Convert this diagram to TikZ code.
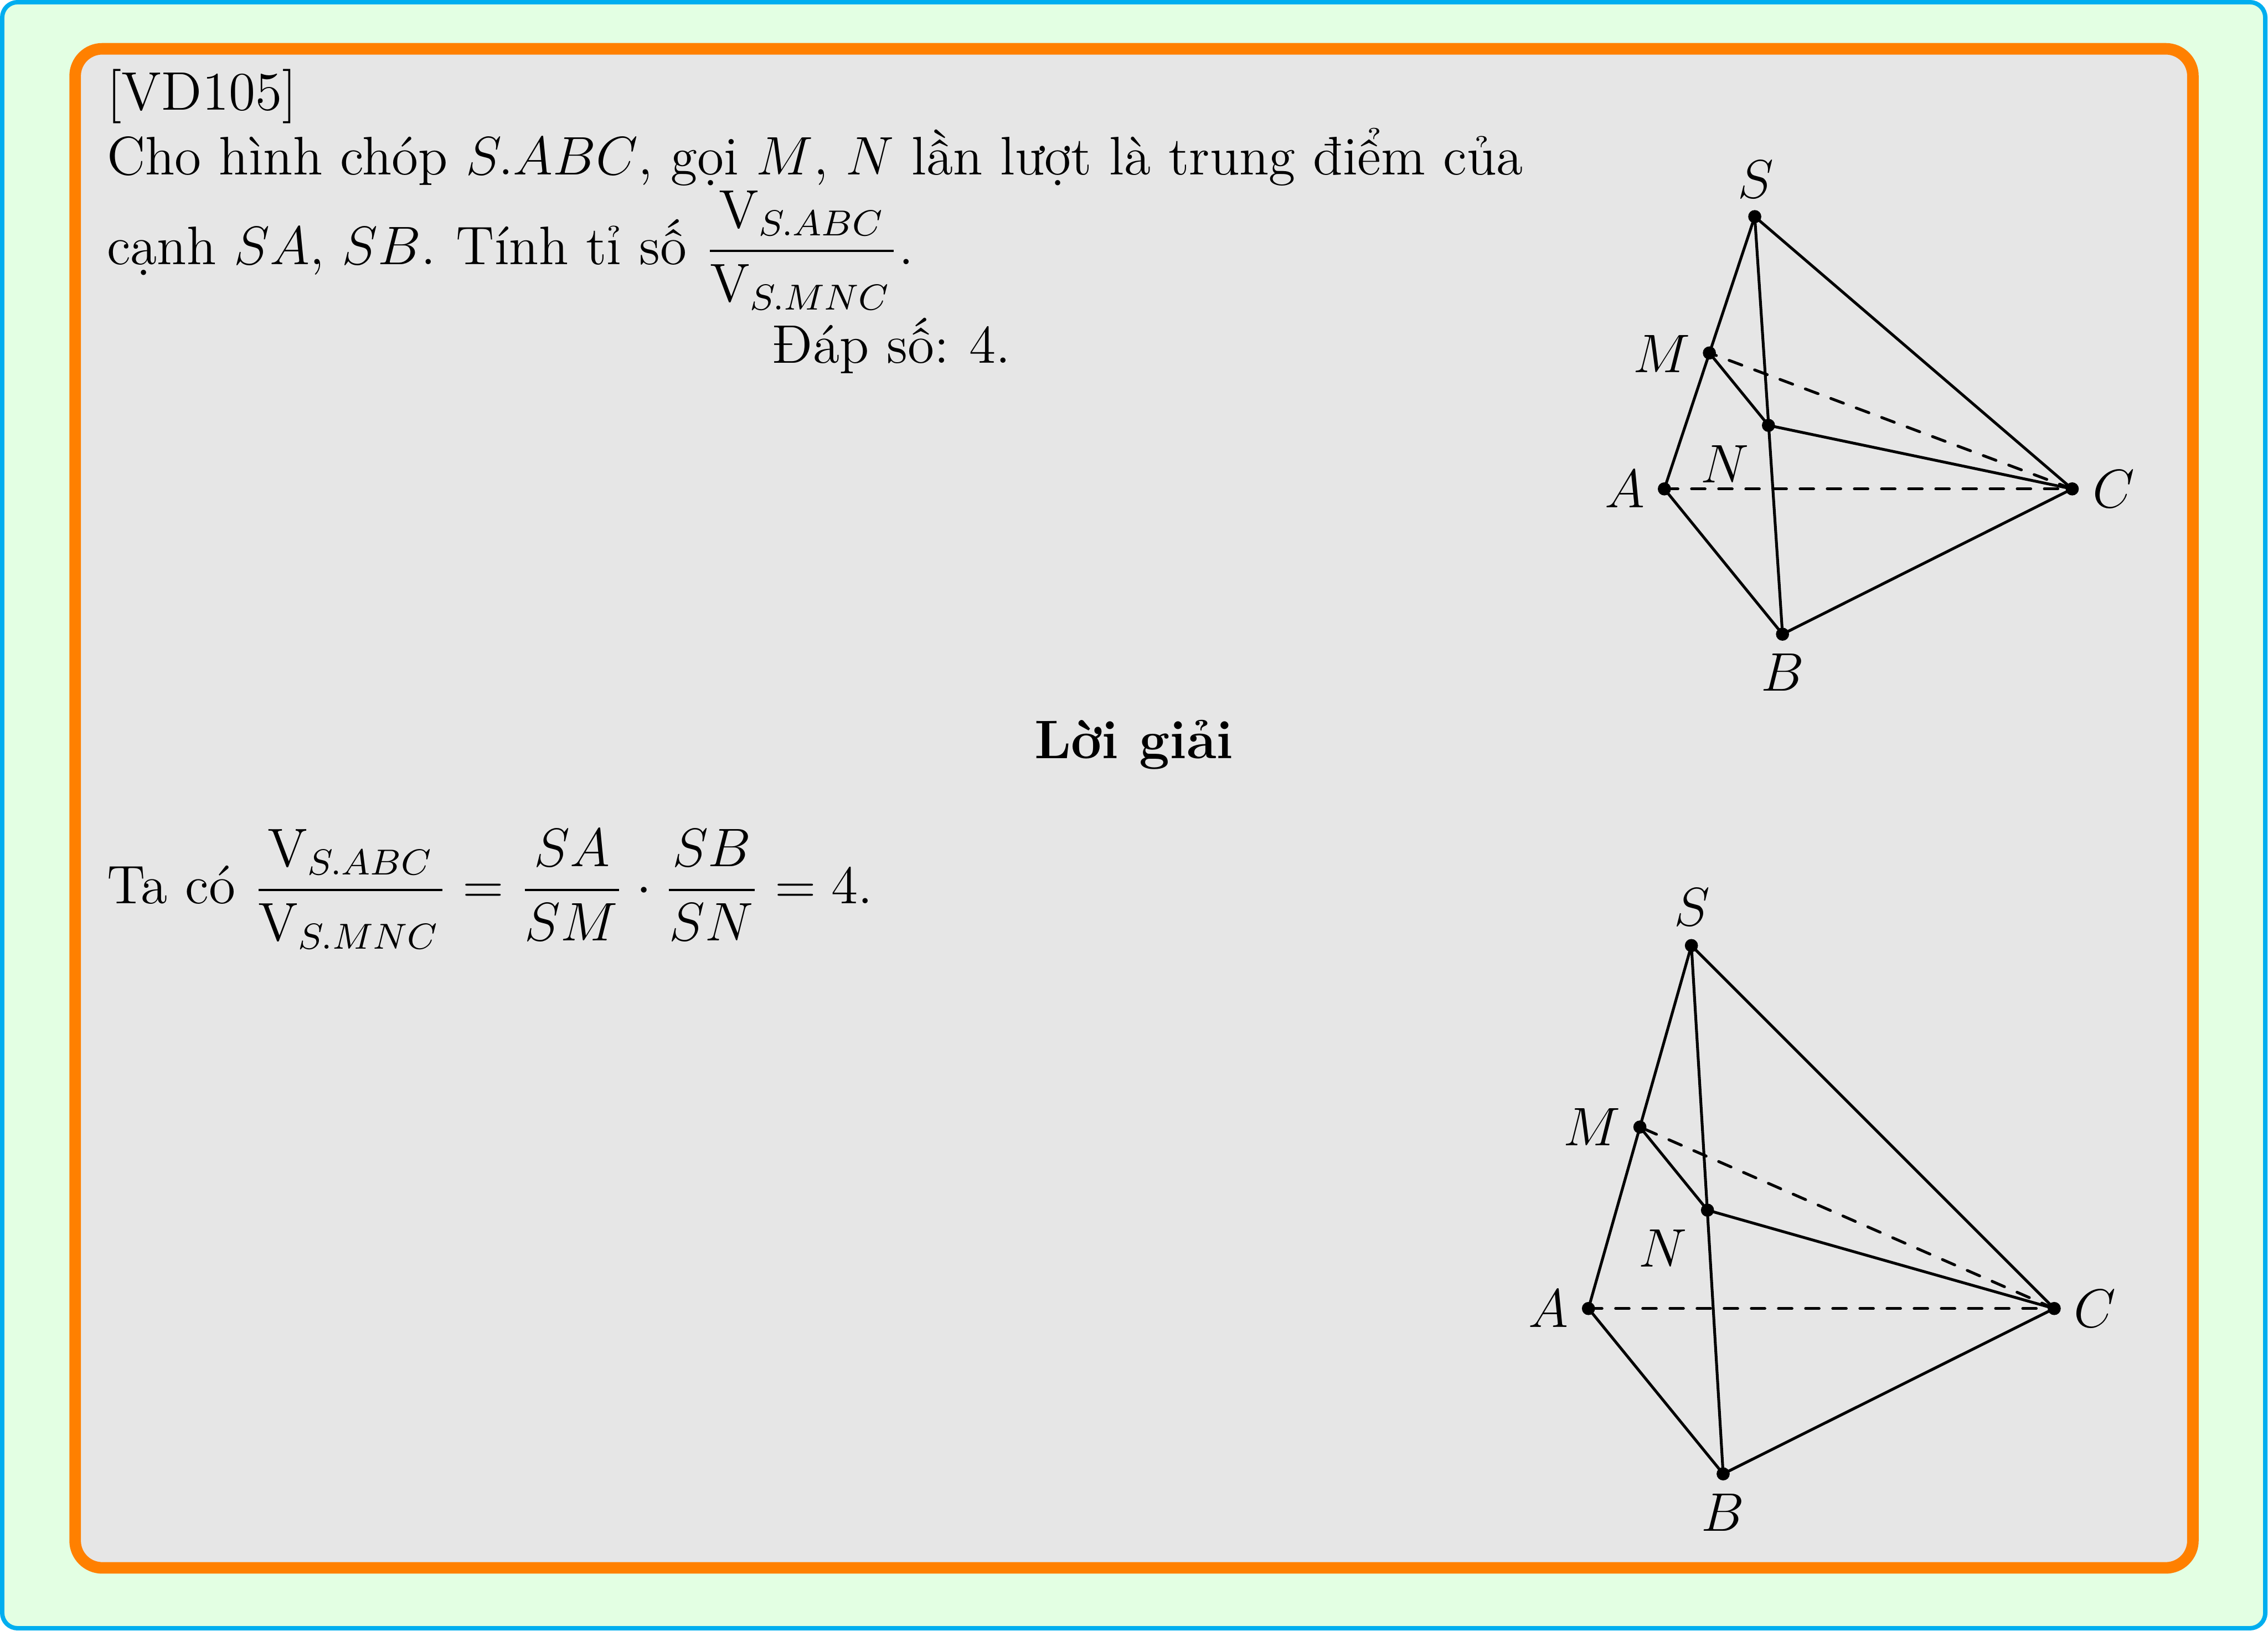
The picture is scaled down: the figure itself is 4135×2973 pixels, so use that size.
\documentclass[tikz,border=0pt]{standalone}
\usepackage{amsmath}
\usepackage{fontspec}
\definecolor{pagegreen}{HTML}{E3FFE3}
\definecolor{framecyan}{HTML}{00AEEF}
\definecolor{frameorange}{HTML}{FF8000}
\definecolor{panelgray}{HTML}{E6E6E6}
\tikzset{
  txt/.style={anchor=base west,inner sep=0pt,outer sep=0pt},
  ptlabel/.style={inner sep=0pt,outer sep=0pt},
  edge/.style={line width=0.62pt,line cap=round,line join=round},
  hidden/.style={line width=0.62pt,line cap=round,dash pattern=on 3pt off 3pt},
  dotmark/.style={circle,fill=black,inner sep=0pt,minimum size=2.9pt}
}
\begin{document}
\begin{tikzpicture}[x=0.12126pt,y=-0.12126pt]
\useasboundingbox (0,0) rectangle (4135,2973);
\draw[framecyan,fill=pagegreen,line width=0.97pt,rounded corners=3.4pt] (4,4) rectangle (4130,2968);
\draw[frameorange,fill=panelgray,line width=2.55pt,rounded corners=6pt] (137,89) rectangle (3998,2858);
\fontsize{12}{14.5}\selectfont
\node[txt] (vd) at (195,200) {[VD105]};
\node[txt] (l1) at (195,319) {Cho hình chóp $S.ABC$, gọi $M$, $N$ lần lượt là trung điểm của};
\node[txt] (l2) at (195,482) {cạnh $SA$, $SB$.\ \kern0.6pt Tính tỉ số $\dfrac{\mathrm{V}_{S.ABC}}{\mathrm{V}_{S.MNC\kern0.6pt}}$.};
\node[txt] (ans) at (1408,661.6) {Đáp số:\ \kern0.6pt 4.};
\node[anchor=base,inner sep=0pt] (lg) at (2067.5,1382.7) {\textbf{Lời giải}};
\node[txt] (sol) at (195,1646.7) {Ta có $\dfrac{\mathrm{V}_{S.ABC}}{\mathrm{V}_{S.MNC\kern0.6pt}}=\dfrac{SA}{SM\kern0.3pt}\cdot\dfrac{SB}{SN\kern0.3pt}=4$.};
% first pyramid
\coordinate (S) at (3199.2,394.9);
\coordinate (M) at (3116.5,643.4);
\coordinate (N) at (3224.2,775.4);
\coordinate (A) at (3034.4,891.2);
\coordinate (C) at (3778,891.2);
\coordinate (B) at (3249.8,1156);
\draw[edge] (S)--(A)--(B)--(C)--cycle (S)--(B) (M)--(N)--(C);
\draw[hidden] (A)--(C);
\draw[hidden] (C)--(M);
\foreach \p in {S,M,N,A,C,B} \node[dotmark] at (\p) {};
\node[ptlabel] (lS) at (3200.6,327) {$S$};
\node[ptlabel] (lM) at (3030,645) {$M$};
\node[ptlabel] (lN) at (3145,846) {$N$};
\node[ptlabel] (lA) at (2962,891) {$A$};
\node[ptlabel] (lC) at (3854,891) {$C$};
\node[ptlabel] (lB) at (3250,1226) {$B$};
% second pyramid
\coordinate (S2) at (3083.7,1723.6);
\coordinate (M2) at (2989.8,2054.4);
\coordinate (N2) at (3113,2205.9);
\coordinate (A2) at (2896,2385.2);
\coordinate (C2) at (3745.2,2385.2);
\coordinate (B2) at (3141.6,2686.6);
\draw[edge] (S2)--(A2)--(B2)--(C2)--cycle (S2)--(B2) (M2)--(N2)--(C2);
\draw[hidden] (A2)--(C2);
\draw[hidden] (C2)--(M2);
\foreach \p in {S2,M2,N2,A2,C2,B2} \node[dotmark] at (\p) {};
\node[ptlabel] (lS2) at (3085,1654) {$S$};
\node[ptlabel] (lM2) at (2902,2054) {$M$};
\node[ptlabel] (lN2) at (3032,2275) {$N$};
\node[ptlabel] (lA2) at (2823,2385) {$A$};
\node[ptlabel] (lC2) at (3819,2385) {$C$};
\node[ptlabel] (lB2) at (3141,2757) {$B$};
\end{tikzpicture}
\end{document}
